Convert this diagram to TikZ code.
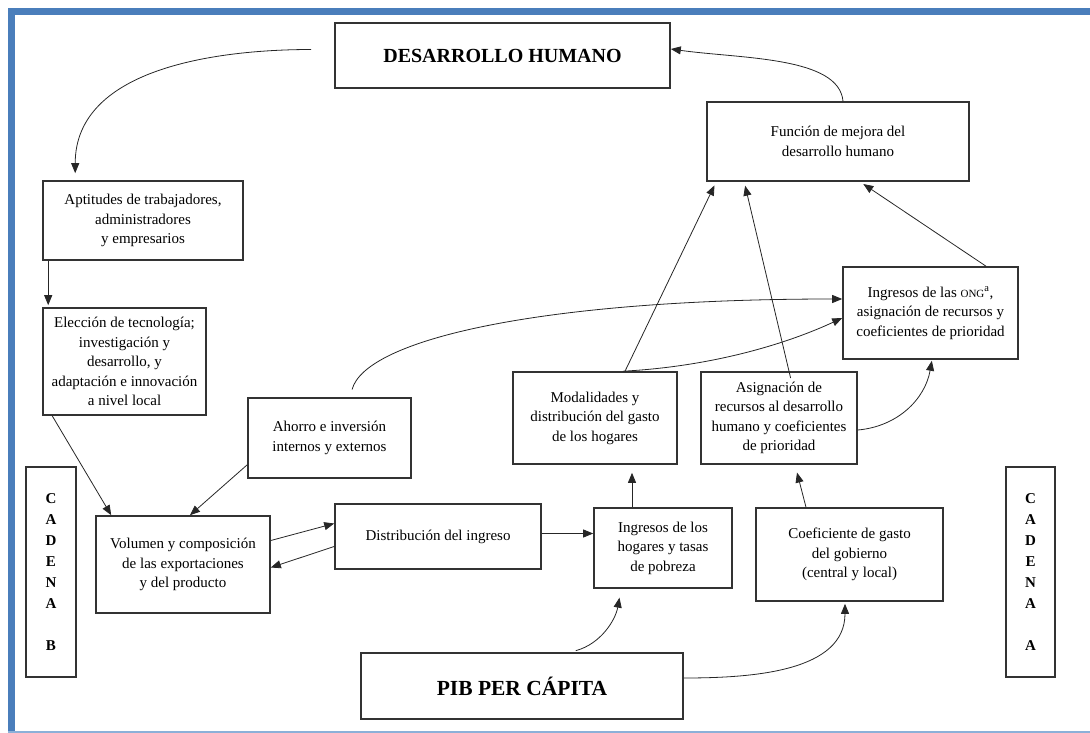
\documentclass[tikz,border=0pt]{standalone}
\usepackage{fontspec}
\setmainfont{Liberation Serif}
\usetikzlibrary{arrows.meta, positioning, calc}
\definecolor{framebar}{RGB}{74,126,187}
\definecolor{frameline}{RGB}{140,176,216}

\begin{document}
\begin{tikzpicture}[x=1pt, y=-1pt,
  box/.style={rectangle, draw=black!80, line width=1.6pt, fill=white,
    align=center, inner sep=2pt, font=\fontsize{15}{19.5}\selectfont},
  titlebox/.style={box, font=\fontsize{20}{24}\selectfont\bfseries},
  chainbox/.style={box, font=\fontsize{15}{21}\selectfont\bfseries},
  arr/.style={-{Triangle[length=10pt, width=8pt]}, line width=0.8pt, draw=black!85}
]
\useasboundingbox (0,0) rectangle (1090,733);

%% ==== Frame ====
\fill[framebar] (8,8) rectangle (1090,15);
\fill[framebar] (8,8) rectangle (15,733);
\draw[frameline, line width=2pt] (8,731.5) -- (1090,731.5);

%% ==== Top: human development ====
\node[titlebox, minimum width=335pt, minimum height=65pt] (DH) at (502.5,55.5) {DESARROLLO HUMANO};
\node[box, minimum width=262pt, minimum height=79pt] (FM) at (838,141.5) {Función de mejora del\\desarrollo humano};

%% ==== Chain B (left) ====
\node[box, minimum width=200pt, minimum height=79pt] (AP) at (143,220.5) {Aptitudes de trabajadores,\\administradores\\y empresarios};
\node[box, minimum width=163pt, minimum height=107pt] (ET) at (124.5,361.5) {Elección de tecnología;\\investigación y\\desarrollo, y\\adaptación e innovación\\a nivel local};
\node[box, minimum width=163pt, minimum height=80pt] (AI) at (329.5,438) {Ahorro e inversión\\internos y externos};
\node[box, minimum width=174pt, minimum height=97pt] (VE) at (183,564.5) {Volumen y composición\\de las exportaciones\\y del producto};
\node[box, minimum width=206pt, minimum height=65pt] (DI) at (438,536.5) {Distribución del ingreso};

%% ==== Chain A (right) ====
\node[box, minimum width=175pt, minimum height=92pt] (ONG) at (930.5,313) {Ingresos de las {\fontsize{11}{13}\selectfont ONG}\textsuperscript{a},\\asignación de recursos y\\coeficientes de prioridad};
\node[box, minimum width=164pt, minimum height=92pt] (MG) at (595,418) {Modalidades y\\distribución del gasto\\de los hogares};
\node[box, minimum width=156pt, minimum height=92pt] (AR) at (779,418) {Asignación de\\recursos al desarrollo\\humano y coeficientes\\de prioridad};
\node[box, minimum width=138pt, minimum height=80pt] (IH) at (663,548) {Ingresos de los\\hogares y tasas\\de pobreza};
\node[box, minimum width=187pt, minimum height=93pt] (CG) at (849.5,554.5) {Coeficiente de gasto\\del gobierno\\(central y local)};

%% ==== Bottom: income per capita ====
\node[titlebox, minimum width=322pt, minimum height=66pt, font=\fontsize{21.5}{25}\selectfont\bfseries] (PIB) at (522,686) {PIB PER CÁPITA};

%% ==== Chain labels ====
\node[chainbox, minimum width=50pt, minimum height=210pt] (CB) at (51,572) {C\\A\\D\\E\\N\\A\\\mbox{}\\B};
\node[chainbox, minimum width=49pt, minimum height=210pt] (CA) at (1030.5,572) {C\\A\\D\\E\\N\\A\\\mbox{}\\A};

%% ==== Chain B arrows ====
\draw[arr, shorten <=23pt, shorten >=7pt] ([yshift=6pt]DH.west) to[out=180, in=90] ([xshift=33pt]AP.north west);
\draw[arr, shorten >=2pt] ([xshift=6pt]AP.south west) -- ([xshift=6pt]ET.north west);
\draw[arr] ([xshift=10pt]ET.south west) -- ([xshift=16pt]VE.north west);
\draw[arr] ([yshift=14pt]AI.south west) -- ([xshift=7pt]VE.north);
\draw[arr] ([yshift=24pt]VE.east) -- ([yshift=13pt]DI.west);
\draw[arr] ([yshift=-10pt]DI.west) -- ([yshift=-3pt]VE.east);
\draw[arr] ([yshift=3pt]DI.east) -- ([yshift=3pt]DI.east -| IH.west);

%% ==== Chain A arrows ====
\draw[arr, shorten >=8pt] ([xshift=-31pt]IH.north) -- ([xshift=-31pt]IH.north |- MG.south);
\draw[arr, shorten >=8pt] ([xshift=-43.5pt]CG.north) -- ([xshift=16pt]AR.south);
\draw[arr, shorten <=6pt, shorten >=9pt] ([xshift=48pt]PIB.north) to[out=15, in=-100] ([xshift=-42pt]IH.south);
\draw[arr, shorten >=2pt] ([yshift=8pt]PIB.east) to[out=0, in=-90] ([xshift=-4.5pt]CG.south);
\draw[arr, shorten >=1pt] ([yshift=-12pt]AR.east) to[out=5, in=-100] ([xshift=1.5pt]ONG.south);

%% ==== Into the improvement function ====
\draw[arr, shorten >=4pt] ([xshift=30pt]MG.north) -- ([xshift=10pt]FM.south west);
\draw[arr, shorten <=-7pt, shorten >=4pt] ([xshift=10pt]AR.north) -- ([xshift=38pt]FM.south west);
\draw[arr, shorten >=4pt] ([xshift=55.5pt]ONG.north) -- ([xshift=22pt]FM.south);
\draw[arr] ([xshift=5pt]FM.north) to[out=95, in=-8, out distance=45pt] ([yshift=6.5pt]DH.east);

%% ==== Into the NGO box ====
\draw[arr, shorten <=8pt] ([xshift=20.5pt]AI.north) to[out=75, in=180, out distance=60pt, in distance=300pt] ([yshift=14pt]ONG.west);
\draw[arr] ([xshift=28pt]MG.north) to[out=3, in=205, out distance=90pt, in distance=60pt] ([yshift=-5pt]ONG.west);

\end{tikzpicture}
\end{document}
